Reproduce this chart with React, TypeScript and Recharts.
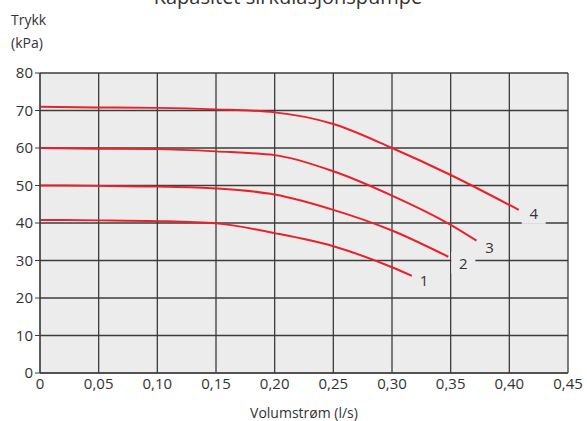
import { LineChart, Line, XAxis, YAxis, CartesianGrid } from 'recharts'

const X_TICKS = [0, 0.05, 0.1, 0.15, 0.2, 0.25, 0.3, 0.35, 0.4, 0.45]
const Y_TICKS = [0, 10, 20, 30, 40, 50, 60, 70, 80]

const curve1 = [
  { q: 0, p: 40.8 },
  { q: 0.05, p: 40.7 },
  { q: 0.1, p: 40.5 },
  { q: 0.15, p: 39.9 },
  { q: 0.2, p: 37.3 },
  { q: 0.25, p: 33.8 },
  { q: 0.3, p: 28.2 },
  { q: 0.317, p: 25.9 },
]
const curve2 = [
  { q: 0, p: 50 },
  { q: 0.05, p: 49.9 },
  { q: 0.1, p: 49.7 },
  { q: 0.15, p: 49.2 },
  { q: 0.2, p: 47.6 },
  { q: 0.25, p: 43.5 },
  { q: 0.3, p: 38 },
  { q: 0.348, p: 31 },
]
const curve3 = [
  { q: 0, p: 60 },
  { q: 0.05, p: 59.8 },
  { q: 0.1, p: 59.7 },
  { q: 0.15, p: 59.1 },
  { q: 0.2, p: 58.1 },
  { q: 0.25, p: 53.8 },
  { q: 0.3, p: 47.3 },
  { q: 0.35, p: 39.5 },
  { q: 0.372, p: 35.3 },
]
const curve4 = [
  { q: 0, p: 71 },
  { q: 0.05, p: 70.8 },
  { q: 0.1, p: 70.7 },
  { q: 0.15, p: 70.3 },
  { q: 0.2, p: 69.5 },
  { q: 0.25, p: 66.4 },
  { q: 0.3, p: 60 },
  { q: 0.35, p: 52.8 },
  { q: 0.408, p: 43.5 },
]

const SERIES = [
  { name: '1', data: curve1, dx: 12, dy: 4 },
  { name: '2', data: curve2, dx: 15, dy: 6 },
  { name: '3', data: curve3, dx: 13, dy: 6 },
  { name: '4', data: curve4, dx: 15, dy: 3 },
]

const FONT = '"Open Sans", "Noto Sans", sans-serif'
const TEXT = '#333'
const RED = '#e8212d'
const GRID = '#3c3c3c'
const BG = '#ececec'

const fmtX = (v: number) => (v === 0 ? '0' : v.toFixed(2).replace('.', ','))

function endLabel(name: string, count: number, dx: number, dy: number) {
  return (props: any) => {
    if (props.index !== count - 1) return null
    const cx = props.x + dx
    const cy = props.y + dy
    return (
      <g key={`lbl-${name}`}>
        <rect x={cx - 12} y={cy - 11} width={24} height={22} fill={BG} />
        <text
          x={cx}
          y={cy}
          textAnchor="middle"
          dominantBaseline="central"
          fontSize={15}
          fontFamily={FONT}
          fill={TEXT}
        >
          {name}
        </text>
      </g>
    )
  }
}

export default function App() {
  return (
    <div style={{ position: 'absolute', left: 0, top: 0, width: 587, height: 421, background: '#fff', overflow: 'hidden' }}>
      <div
        style={{
          position: 'absolute',
          left: 0,
          width: 576,
          top: -15,
          textAlign: 'center',
          fontFamily: FONT,
          fontSize: 20,
          color: TEXT,
          lineHeight: '24px',
          whiteSpace: 'nowrap',
        }}
      >
        Kapasitet sirkulasjonspumpe
      </div>
      <div
        style={{
          position: 'absolute',
          left: 11,
          top: 8,
          fontFamily: FONT,
          fontSize: 14,
          color: TEXT,
          lineHeight: '23px',
        }}
      >
        Trykk
        <br />
        (kPa)
      </div>
      <LineChart
        width={587}
        height={421}
        margin={{ top: 73, right: 19, left: 0, bottom: 0 }}
        style={{ fontFamily: FONT }}
      >
        <CartesianGrid stroke={GRID} strokeWidth={1.3} fill={BG} />
        <XAxis
          type="number"
          dataKey="q"
          domain={[0, 0.45]}
          ticks={X_TICKS}
          tickFormatter={fmtX}
          allowDataOverflow
          height={48}
          tickLine={false}
          tickSize={4}
          tickMargin={1}
          stroke={GRID}
          tick={{ fill: TEXT, fontSize: 15, fontFamily: FONT }}
          label={{
            value: 'Volumstrøm (l/s)',
            position: 'insideBottom',
            offset: 3,
            fill: TEXT,
            fontSize: 14,
            fontFamily: FONT,
          }}
        />
        <YAxis
          type="number"
          domain={[0, 80]}
          ticks={Y_TICKS}
          width={40}
          tickSize={5}
          tickMargin={2}
          stroke={GRID}
          tick={{ fill: TEXT, fontSize: 15, fontFamily: FONT }}
        />
        {SERIES.map((s) => (
          <Line
            key={s.name}
            data={s.data}
            dataKey="p"
            type="monotone"
            stroke={RED}
            strokeWidth={2}
            dot={false}
            isAnimationActive={false}
            label={endLabel(s.name, s.data.length, s.dx, s.dy)}
          />
        ))}
      </LineChart>
    </div>
  )
}
